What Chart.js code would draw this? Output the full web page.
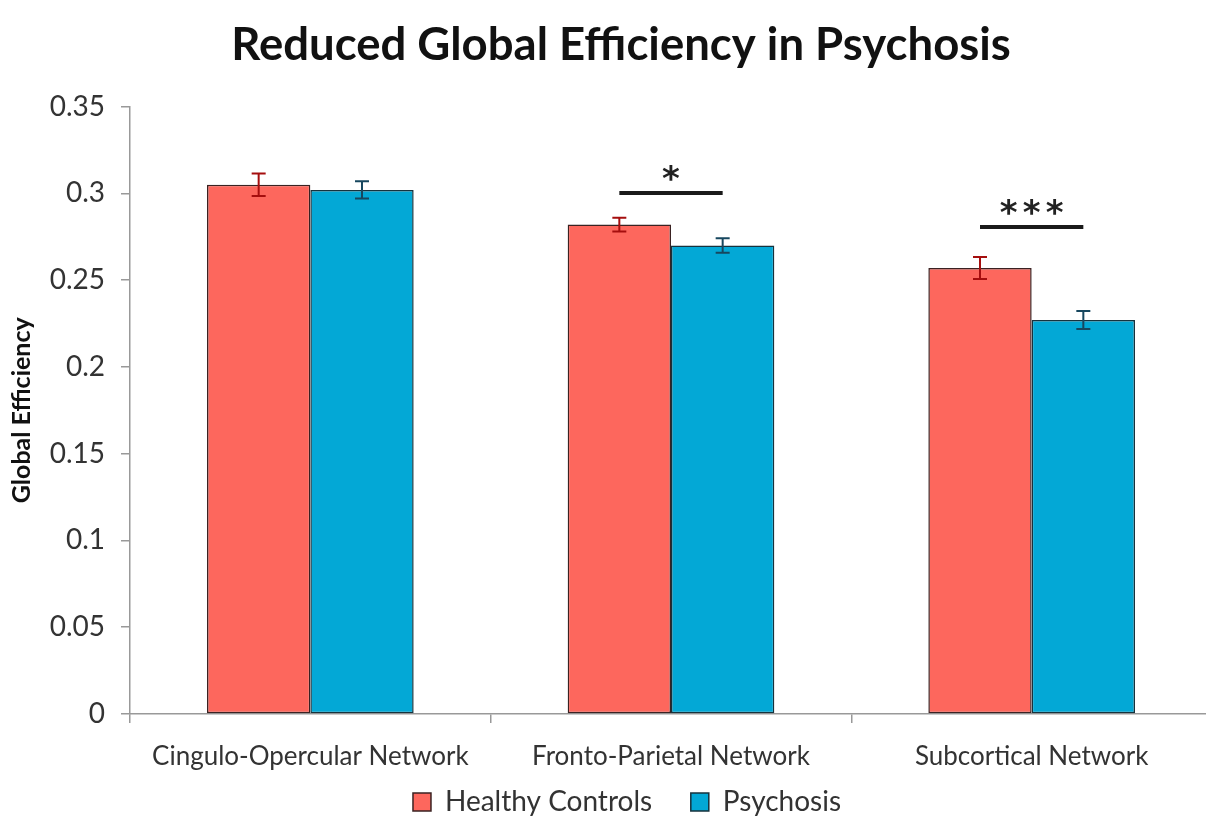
<!DOCTYPE html>
<html>
<head>
<meta charset="utf-8">
<script src="https://cdn.jsdelivr.net/npm/chart.js@4"></script>
<style>
html,body{margin:0;padding:0;background:#fff;overflow:hidden;}
#wrap{width:1212px;height:819px;position:relative;}
</style>
</head>
<body>
<div id="wrap"><canvas id="c"></canvas></div>
<script>
const categories = ['Cingulo-Opercular Network', 'Fronto-Parietal Network', 'Subcortical Network'];
const seriesNames = ['Healthy Controls', 'Psychosis'];
const healthyControls = [0.305, 0.282, 0.257];
const healthyErr = [0.0065, 0.004, 0.0063];
const psychosis = [0.302, 0.270, 0.227];
const psychosisErr = [0.005, 0.0042, 0.0052];
const yTickLabels = ['0', '0.05', '0.1', '0.15', '0.2', '0.25', '0.3', '0.35'];
const sigCategories = [1, 2];
const sigLevels = [0.3002, 0.2806];
const sigLabels = ['*', '***'];

const FONT = 'Lato, "Open Sans", sans-serif';

const shiftBlocks = {
  id: 'shiftBlocks',
  afterLayout(chart) {
    if (chart.titleBlock) { chart.titleBlock.left += 15; chart.titleBlock.right += 15; }
    if (chart.legend) { chart.legend.left += 21; chart.legend.right += 21; }
  }
};

const errorBarPlugin = {
  id: 'errorBars',
  afterDatasetsDraw(chart) {
    const ctx = chart.ctx;
    const y = chart.scales.y;
    chart.data.datasets.forEach((ds, i) => {
      const meta = chart.getDatasetMeta(i);
      meta.data.forEach((el, j) => {
        const v = ds.data[j], e = ds.errors[j];
        const yt = y.getPixelForValue(v + e), yb = y.getPixelForValue(v - e);
        ctx.save();
        ctx.strokeStyle = ds.errorColor;
        ctx.lineWidth = 2;
        ctx.beginPath();
        ctx.moveTo(el.x, yt); ctx.lineTo(el.x, yb);
        ctx.moveTo(el.x - 7, yt); ctx.lineTo(el.x + 7, yt);
        ctx.moveTo(el.x - 7, yb); ctx.lineTo(el.x + 7, yb);
        ctx.stroke();
        ctx.restore();
      });
    });
    // significance markers
    const m0 = chart.getDatasetMeta(0), m1 = chart.getDatasetMeta(1);
    sigCategories.forEach((c, k) => {
      const x0 = m0.data[c].x, x1 = m1.data[c].x;
      const py = y.getPixelForValue(sigLevels[k]);
      ctx.save();
      ctx.strokeStyle = '#1a1a1a';
      ctx.lineWidth = 4;
      ctx.beginPath();
      ctx.moveTo(x0, py); ctx.lineTo(x1, py);
      ctx.stroke();
      ctx.fillStyle = '#222';
      ctx.font = 'bold 34px "DejaVu Sans", sans-serif';
      ctx.textAlign = 'center';
      ctx.textBaseline = 'middle';
      const n = sigLabels[k].length;
      const cx = (x0 + x1) / 2;
      for (let s = 0; s < n; s++) {
        ctx.fillText('*', cx + (s - (n - 1) / 2) * 23, py - 12);
      }
      ctx.restore();
    });
  }
};

new Chart(document.getElementById('c'), {
  type: 'bar',
  data: {
    labels: categories,
    datasets: [
      {
        label: seriesNames[0],
        data: healthyControls,
        errors: healthyErr,
        errorColor: '#A50E0E',
        backgroundColor: '#FD675D',
        borderColor: '#3a2222',
        borderWidth: 1.5,
        borderSkipped: false
      },
      {
        label: seriesNames[1],
        data: psychosis,
        errors: psychosisErr,
        errorColor: '#17475F',
        backgroundColor: '#03A8D6',
        borderColor: '#16323d',
        borderWidth: 1.5,
        borderSkipped: false
      }
    ]
  },
  options: {
    responsive: true,
    maintainAspectRatio: false,
    animation: false,
    categoryPercentage: 0.573,
    barPercentage: 1.0,
    layout: { padding: { left: 0, right: 0, top: 0, bottom: 0 } },
    plugins: {
      title: {
        display: true,
        text: 'Reduced Global Efficiency in Psychosis',
        color: '#111',
        font: { family: FONT, size: 45.5, weight: 'bold' },
        padding: { top: 18, bottom: 34 }
      },
      legend: {
        display: true,
        position: 'bottom',
        maxHeight: 41,
        labels: {
          color: '#333',
          font: { family: FONT, size: 28 },
          boxWidth: 18,
          boxHeight: 18,
          padding: 10,
          generateLabels(chart) {
            const items = Chart.defaults.plugins.legend.labels.generateLabels(chart);
            items.forEach((it, i) => { if (i < items.length - 1) it.text = it.text + '    '; });
            return items;
          }
        }
      },
      tooltip: { enabled: false }
    },
    scales: {
      x: {
        afterFit(s) { s.height = 64; },
        grid: { display: true, drawOnChartArea: false, offset: true, color: '#999', tickLength: 9, lineWidth: 1.5 },
        border: { display: true, color: '#999', width: 1.5 },
        ticks: { color: '#333', font: { family: FONT, size: 26 }, padding: 18 }
      },
      y: {
        min: 0,
        max: 0.35,
        afterFit(s) { s.width = 130; },
        grid: { display: true, drawOnChartArea: false, color: '#999', tickLength: 9, lineWidth: 1.5 },
        border: { display: true, color: '#999', width: 1.5 },
        ticks: {
          stepSize: 0.05,
          color: '#333',
          font: { family: FONT, size: 28 },
          padding: 16,
          callback: (v, i) => yTickLabels[i]
        },
        title: {
          display: true,
          text: 'Global Efficiency',
          color: '#111',
          font: { family: FONT, size: 25, weight: 'bold' },
          padding: { top: 7, bottom: 0 }
        }
      }
    }
  },
  plugins: [errorBarPlugin, shiftBlocks]
});
</script>
</body>
</html>
